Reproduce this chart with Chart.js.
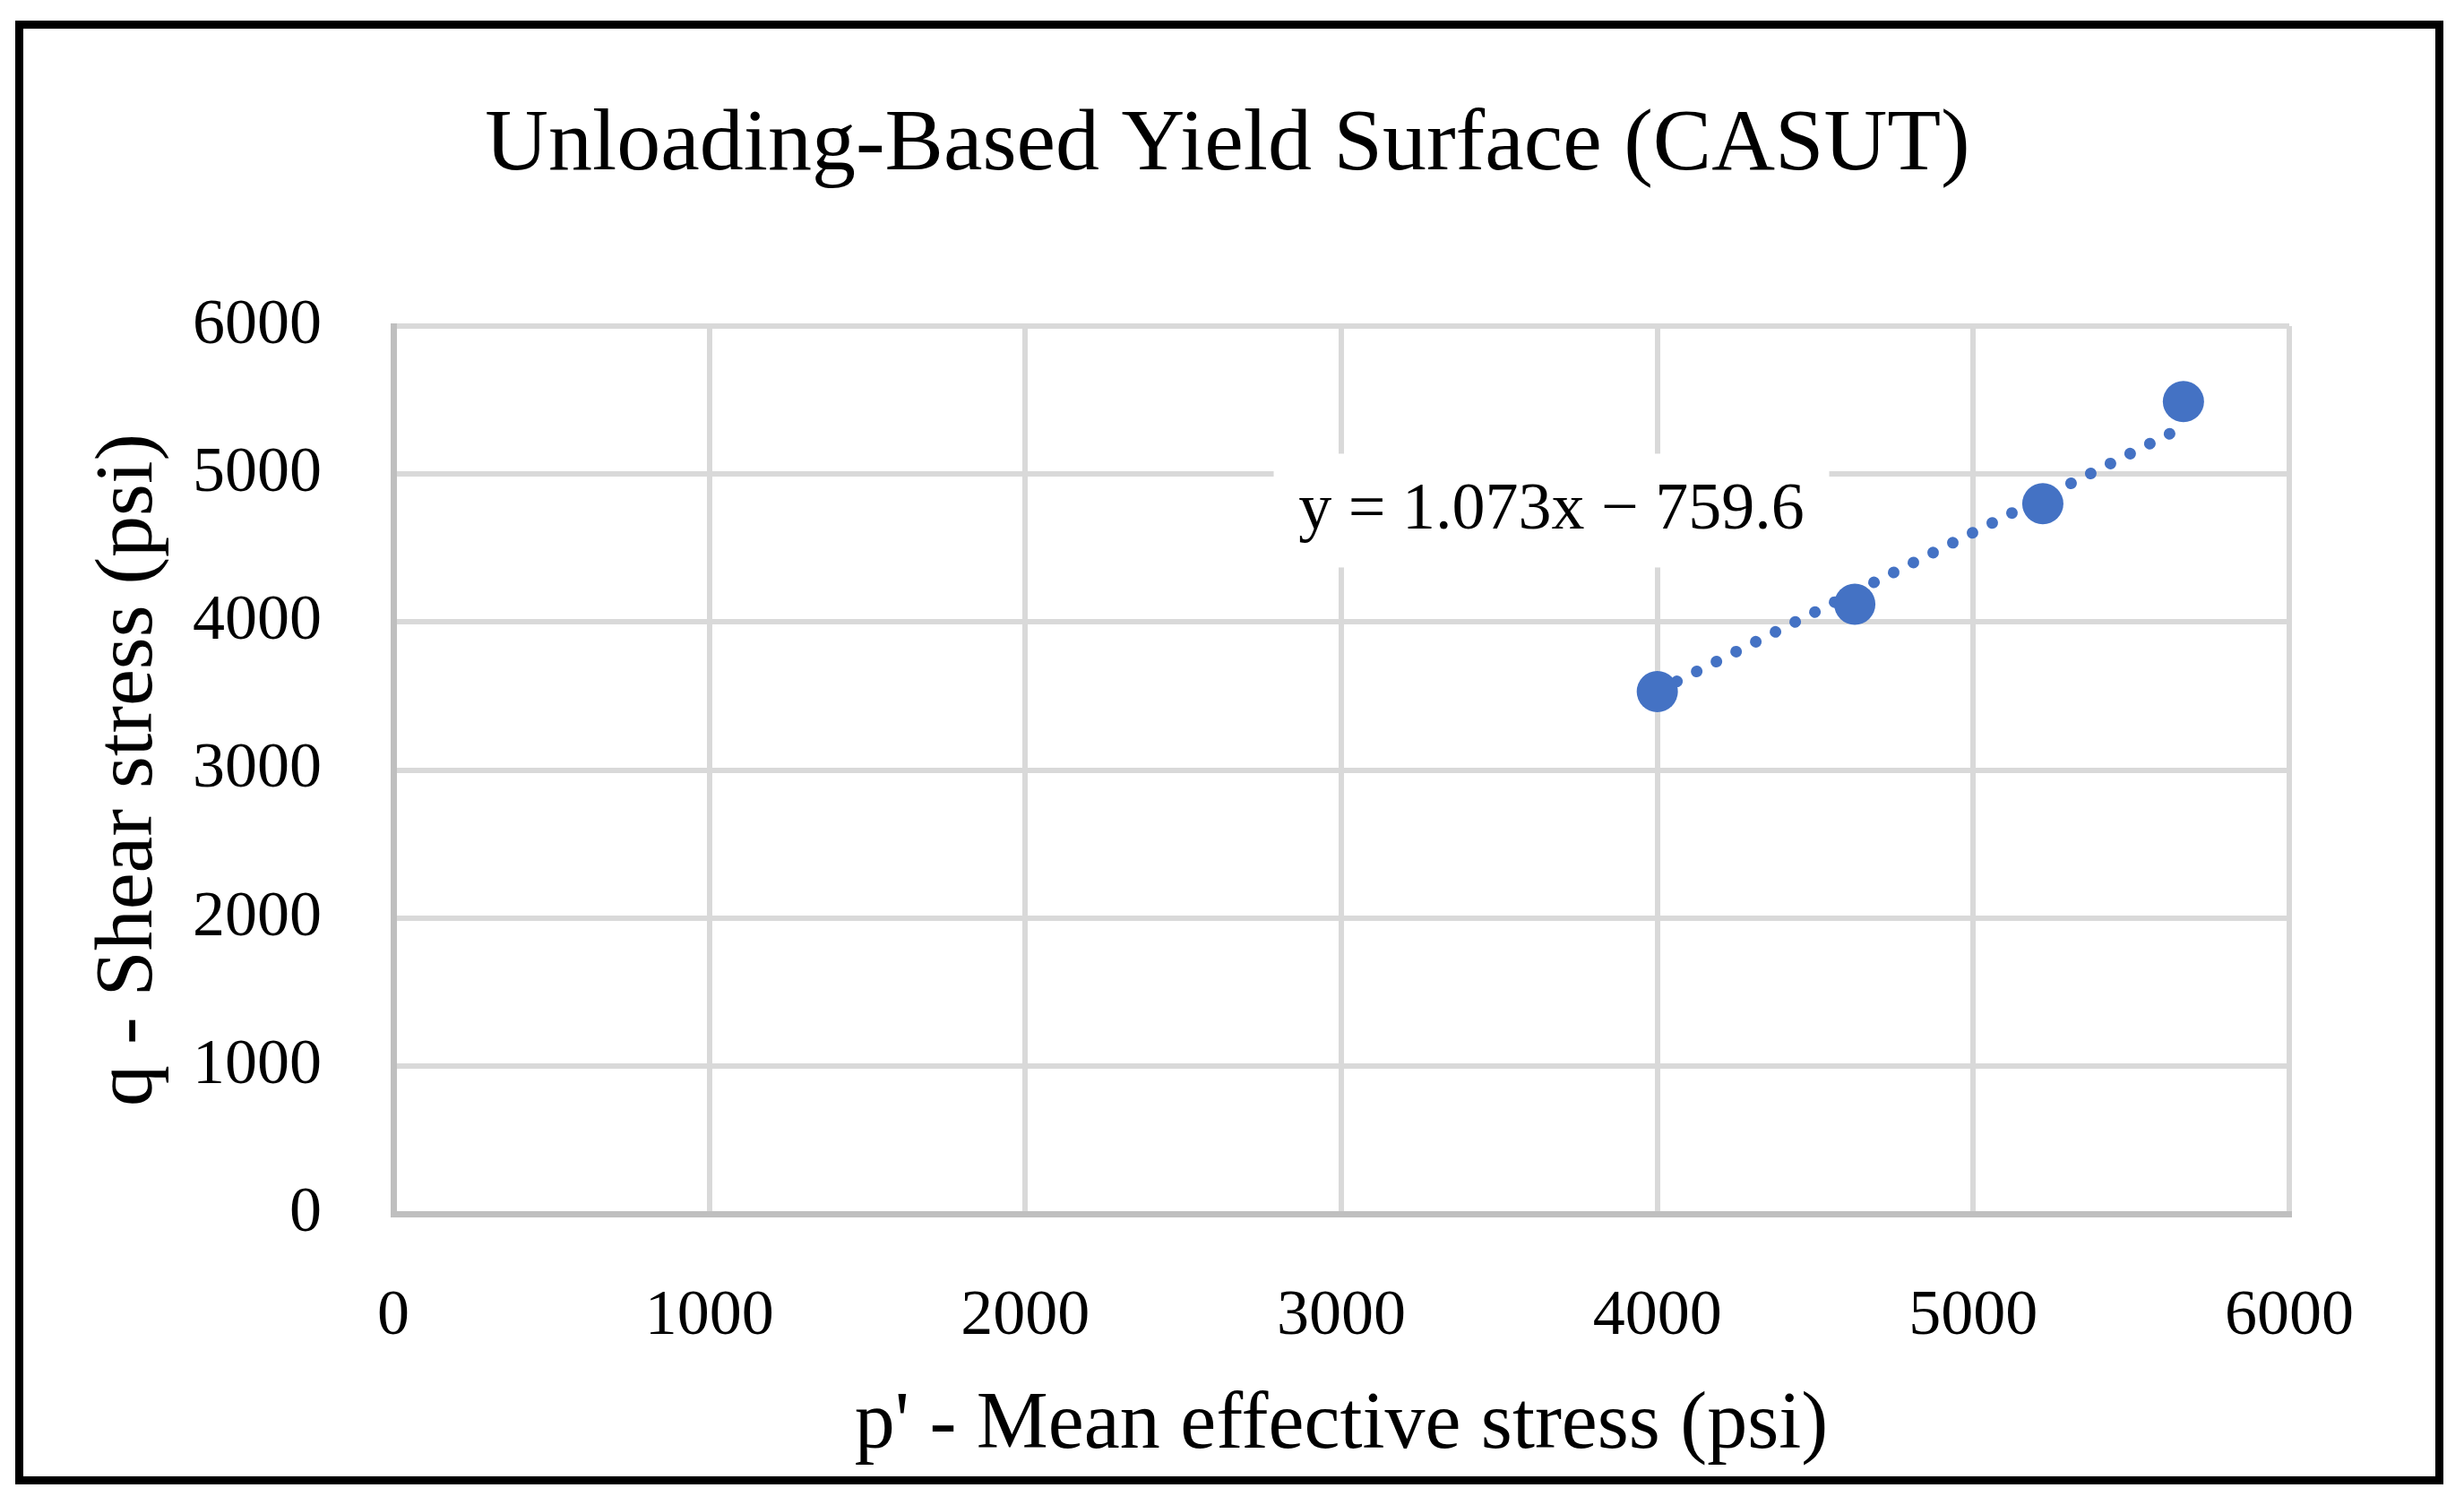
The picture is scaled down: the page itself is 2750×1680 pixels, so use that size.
<!DOCTYPE html>
<html>
<head>
<meta charset="utf-8">
<title>Unloading-Based Yield Surface (CASUT)</title>
<script src="https://cdn.jsdelivr.net/npm/chart.js@4.4.0/dist/chart.umd.min.js"></script>
<style>
  html, body { margin: 0; padding: 0; background: #fff; }
  canvas { display: block; }
</style>
</head>
<body>
<canvas id="myChart" width="2750" height="1680"></canvas>
<script>
// values
const meanStress = [4000, 4625, 5220, 5665];
const shearStress = [3530, 4120, 4800, 5490];
// trendline ends, from the printed equation
const trendX = [4000, 5665];
const trendY = [3532, 5319];
const axisTicks = [0, 1000, 2000, 3000, 4000, 5000, 6000];

const chartTitle = "Unloading-Based Yield Surface (CASUT)";
const xTitle = "p' - Mean effective stress (psi)";
const yTitle = "q - Shear stress (psi)";
const equationText = "y = 1.073x \u2212 759.6";

const serif = "'Liberation Serif', 'Times New Roman', serif";
const blue = "#4472C4";

const points = meanStress.map((x, i) => ({ x: x, y: shearStress[i] }));
const trend = trendX.map((x, i) => ({ x: x, y: trendY[i] }));

// title, equation label and outer frame
const extras = {
  id: "extras",
  beforeDatasetsDraw(chart) {
    const ctx = chart.ctx;
    const sx = chart.scales.x, sy = chart.scales.y;
    const cx = sx.getPixelForValue(3665);
    const cy = sy.getPixelForValue(4750);
    ctx.save();
    ctx.fillStyle = "#fff";
    ctx.fillRect(cx - 310, cy - 64, 620, 127);
    ctx.fillStyle = "#000";
    ctx.font = "74px " + serif;
    ctx.textAlign = "center";
    ctx.textBaseline = "middle";
    ctx.fillText(equationText, cx, cy);
    ctx.restore();
  },
  afterDraw(chart) {
    const ctx = chart.ctx;
    ctx.save();
    ctx.fillStyle = "#000";
    ctx.font = "98px " + serif;
    ctx.textAlign = "center";
    ctx.textBaseline = "alphabetic";
    ctx.fillText(chartTitle, 1370, 189);
    ctx.strokeStyle = "#000";
    ctx.lineWidth = 9;
    ctx.strokeRect(21.5, 27.5, 2701, 1625);
    ctx.restore();
  }
};

const plainNumber = (v) => String(v);

const ctx = document.getElementById("myChart").getContext("2d");
const myChart = new Chart(ctx, {
  type: "scatter",
  data: {
    datasets: [
      {
        label: "Yield points",
        data: points,
        backgroundColor: blue,
        borderColor: blue,
        borderWidth: 0,
        pointRadius: 23,
        pointHoverRadius: 23,
      },
      {
        label: "Linear trend",
        data: trend,
        showLine: true,
        borderColor: blue,
        borderWidth: 13,
        borderDash: [0.01, 24.6],
        borderCapStyle: "round",
        pointRadius: 0,
        pointHoverRadius: 0,
      },
    ],
  },
  options: {
    responsive: false,
    devicePixelRatio: 1,
    animation: false,
    layout: { padding: { left: 30, right: 195, top: 364, bottom: 32 } },
    plugins: {
      legend: { display: false },
      tooltip: { enabled: false },
      title: { display: false },
    },
    scales: {
      x: {
        type: "linear",
        min: 0,
        max: 6000,
        afterBuildTicks: (scale) => { scale.ticks = axisTicks.map(v => ({ value: v })); },
        afterFit: (scale) => { scale.height = 293; },
        grid: { color: "#D9D9D9", lineWidth: 6, drawTicks: false },
        border: { color: "#BFBFBF", width: 7 },
        ticks: { color: "#000", padding: 72, callback: plainNumber, font: { family: serif, size: 72 } },
        title: {
          display: true,
          text: xTitle,
          color: "#000",
          padding: { top: 0, bottom: 2 },
          font: { family: serif, size: 90 },
        },
      },
      y: {
        type: "linear",
        min: 0,
        max: 6000,
        afterBuildTicks: (scale) => { scale.ticks = axisTicks.map(v => ({ value: v })); },
        afterFit: (scale) => { scale.width = 409; },
        grid: { color: "#D9D9D9", lineWidth: 6, drawTicks: false },
        border: { color: "#BFBFBF", width: 7 },
        ticks: { color: "#000", padding: 80, callback: plainNumber, font: { family: serif, size: 72 } },
        title: {
          display: true,
          text: yTitle,
          color: "#000",
          padding: { top: 60, bottom: 0 },
          font: { family: serif, size: 92 },
        },
      },
    },
  },
  plugins: [extras],
});
</script>
</body>
</html>
